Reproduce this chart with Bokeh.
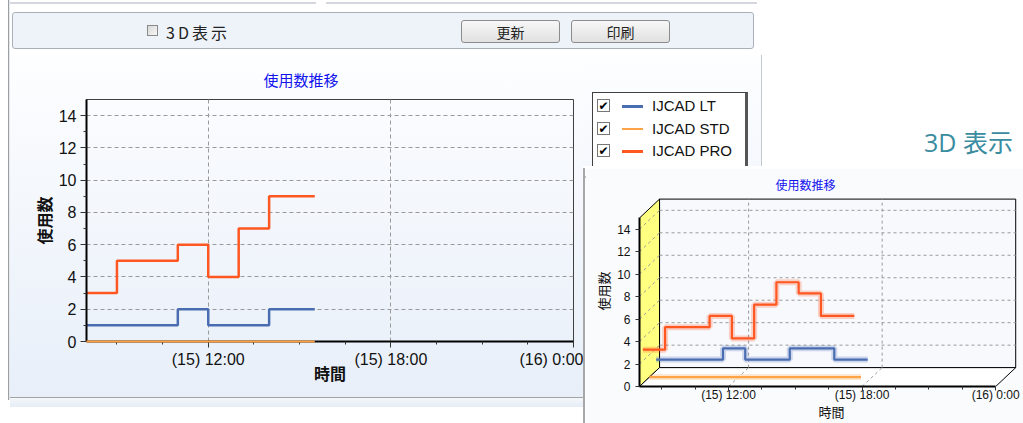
from bokeh.plotting import figure
from bokeh.models import Range1d, FixedTicker, Div
from bokeh.layouts import row, column
from bokeh.embed import file_html
from bokeh.resources import INLINE

# ---------------- data ----------------
# 2D chart (snapshot)
times_2d = ["08:00", "09:00", "10:00", "11:00", "12:00", "13:00", "14:00", "15:00", "15:30"]
lt_2d = [1, 1, 1, 2, 1, 1, 2, 2, 2]
std_2d = [0, 0, 0, 0, 0, 0, 0, 0, 0]
pro_2d = [3, 5, 5, 6, 4, 7, 9, 9, 9]

# 3D chart (inset)
times_3d = ["08:00", "09:00", "10:00", "11:00", "12:00", "13:00", "14:00", "15:00", "16:00", "17:00", "17:30"]
lt_3d = [1, 1, 1, 2, 1, 1, 2, 2, 1, 1, 1]
std_3d = [0, 0, 0, 0, 0, 0, 0, 0, 0, 0, 0]
pro_3d = [3, 5, 5, 6, 4, 7, 9, 8, 6, 6, 6]

series_names = ["IJCAD LT", "IJCAD STD", "IJCAD PRO"]
series_colors = ["#4A6DB2", "#FFA347", "#FF5722"]

x_start, x_end = 8, 24
y_max = 15
major_hours = [12, 18, 24]
major_labels = ["(15) 12:00", "(15) 18:00", "(16) 0:00"]
minor_hours = [9, 10.5, 13.5, 15, 16.5, 19.5, 21, 22.5]
y_ticks = [0, 2, 4, 6, 8, 10, 12, 14]
y_minor = [1, 3, 5, 7, 9, 11, 13]

title_text = "使用数推移"
x_label = "時間"
y_label = "使用数"

JP = "Noto Sans CJK JP"
NUM = "Liberation Sans"


def hours(t):
    h, m = t.split(":")
    return int(h) + int(m) / 60.0


h2 = [hours(t) for t in times_2d]
h3 = [hours(t) for t in times_3d]

# ---------------- main 2D chart ----------------
p = figure(width=573, height=342, x_range=Range1d(x_start, x_end), y_range=Range1d(0, y_max),
           output_backend="svg", toolbar_location=None,
           min_border_left=76, min_border_right=10, min_border_top=44, min_border_bottom=56,
           background_fill_alpha=0, border_fill_alpha=0,
           outline_line_color="#404040", outline_line_width=1)
p.styles = {"background": "linear-gradient(180deg, #FDFEFF 0%, #E8EFF9 100%)"}

p.title.text = title_text
p.title.align = "left"
p.title.offset = 177
p.title.standoff = 20
p.title.text_font = JP
p.title.text_font_size = "15px"
p.title.text_font_style = "normal"
p.title.text_color = "#1414EE"

p.xaxis.ticker = FixedTicker(ticks=major_hours, minor_ticks=minor_hours)
p.xaxis.major_label_overrides = dict(zip(major_hours, major_labels))
p.yaxis.ticker = FixedTicker(ticks=y_ticks, minor_ticks=y_minor)
p.xaxis.axis_label = x_label
p.yaxis.axis_label = y_label
for ax in (p.xaxis[0], p.yaxis[0]):
    ax.axis_line_width = 2
    ax.axis_line_color = "black"
    ax.major_tick_line_color = "#333333"
    ax.minor_tick_line_color = "#333333"
    ax.major_tick_in = 0
    ax.major_tick_out = 6
    ax.minor_tick_in = 0
    ax.minor_tick_out = 3
    ax.major_label_text_font = NUM
    ax.major_label_text_font_size = "16px"
    ax.major_label_text_color = "#111111"
    ax.axis_label_text_font = JP
    ax.axis_label_text_font_size = "16px"
    ax.axis_label_text_font_style = "bold"
    ax.axis_label_text_color = "#111111"
p.xaxis.major_label_standoff = 3
p.xaxis.axis_label_standoff = -10
p.yaxis.major_label_standoff = 4
p.yaxis.axis_label_standoff = 0

for g in (p.xgrid[0], p.ygrid[0]):
    g.grid_line_color = "#9A9A9A"
    g.grid_line_dash = "4 3"
    g.grid_line_width = 1

vals_2d = [lt_2d, std_2d, pro_2d]
for idx in (0, 2):
    p.step(x=h2, y=vals_2d[idx], mode="after", line_color=series_colors[idx], line_width=2.5)
p.step(x=h2, y=vals_2d[1], mode="after", line_color=series_colors[1], line_width=2, level="overlay")

# ---------------- 3D inset chart ----------------
DX, DY = 0.9, 1.68  # depth offset of the 3D box (hours, units)
depth = [5 / 6, 3 / 6, 1 / 6]  # LT back, STD middle, PRO front

ins = figure(width=438, height=255, x_range=Range1d(x_start, x_end + 1.25), y_range=Range1d(0, y_max + 2),
             output_backend="svg", toolbar_location=None,
             min_border_left=54, min_border_right=0, min_border_top=27, min_border_bottom=36,
             background_fill_color="#FAFBFD", border_fill_color="#FAFBFD",
             outline_line_color=None)
ins.xgrid.visible = False
ins.ygrid.visible = False

ins.title.text = title_text
ins.title.align = "left"
ins.title.offset = 136
ins.title.standoff = 5
ins.title.text_font = JP
ins.title.text_font_size = "12px"
ins.title.text_font_style = "normal"
ins.title.text_color = "#1414EE"

# back wall
ins.patch([x_start + DX, x_end + DX, x_end + DX, x_start + DX], [DY, DY, y_max + DY, y_max + DY],
          fill_color="#F7F9FD", line_color="black", line_width=1)
# side wall (yellow)
ins.patch([x_start, x_start + DX, x_start + DX, x_start], [0, DY, y_max + DY, y_max],
          fill_color="#FFFF80", line_color="black", line_width=1)
# floor
ins.patch([x_start, x_end, x_end + DX, x_start + DX], [0, 0, DY, DY],
          fill_color="white", line_color="black", line_width=1)
# grid on back wall, side wall and floor
gy = y_ticks[1:]
ins.segment(x0=[x_start + DX] * len(gy), y0=[v + DY for v in gy], x1=[x_end + DX] * len(gy),
            y1=[v + DY for v in gy], line_color="#9A9A9A", line_dash="3 3", line_width=1)
gx = major_hours[:-1]
ins.segment(x0=[v + DX for v in gx], y0=[DY] * len(gx), x1=[v + DX for v in gx],
            y1=[y_max + DY] * len(gx), line_color="#9A9A9A", line_dash="3 3", line_width=1)
ins.segment(x0=[x_start] * len(gy), y0=gy, x1=[x_start + DX] * len(gy), y1=[v + DY for v in gy],
            line_color="#9A9A9A", line_dash="3 3", line_width=1)
ins.segment(x0=gx, y0=[0] * len(gx), x1=[v + DX for v in gx], y1=[DY] * len(gx),
            line_color="#9A9A9A", line_dash="3 3", line_width=1)

vals_3d = [lt_3d, std_3d, pro_3d]
for idx in (0, 1, 2):
    f = depth[idx]
    xs = [h + f * DX for h in h3]
    ys = [v + f * DY for v in vals_3d[idx]]
    ins.step(x=xs, y=ys, mode="after", line_color=series_colors[idx], line_width=6, line_alpha=0.25)
    ins.step(x=xs, y=ys, mode="after", line_color=series_colors[idx], line_width=2.2)

ins.xaxis.ticker = FixedTicker(ticks=major_hours, minor_ticks=minor_hours)
ins.xaxis.major_label_overrides = dict(zip(major_hours, major_labels))
ins.yaxis.ticker = FixedTicker(ticks=y_ticks, minor_ticks=[])
ins.xaxis.bounds = (x_start, x_end)
ins.yaxis.bounds = (0, y_max)
ins.xaxis.axis_label = x_label
ins.yaxis.axis_label = y_label
for ax in (ins.xaxis[0], ins.yaxis[0]):
    ax.axis_line_width = 2
    ax.axis_line_color = "black"
    ax.major_tick_line_color = "#333333"
    ax.minor_tick_line_color = "#333333"
    ax.major_tick_in = 0
    ax.major_tick_out = 4
    ax.minor_tick_in = 0
    ax.minor_tick_out = 3
    ax.major_label_text_font = NUM
    ax.major_label_text_font_size = "12px"
    ax.major_label_text_color = "#111111"
    ax.axis_label_text_font = JP
    ax.axis_label_text_font_size = "13px"
    ax.axis_label_text_font_style = "normal"
    ax.axis_label_text_color = "#111111"
ins.xaxis.major_label_standoff = -3
ins.xaxis.axis_label_standoff = -3
ins.yaxis.major_label_standoff = 5
ins.yaxis.axis_label_standoff = 1

# ---------------- HTML chrome ----------------
top_html = f"""
<div style="position:relative;width:1013px;height:55px;overflow:hidden;background:#ffffff;font-family:'{JP}',sans-serif;">
  <div style="position:absolute;left:0px;top:2px;width:306px;height:2px;background:#D4D8DE;"></div>
  <div style="position:absolute;left:316px;top:2px;width:431px;height:2px;background:#D4D8DE;"></div>
  <div style="position:absolute;left:2px;top:12px;width:742px;height:37px;border:1px solid #A9B0BA;border-radius:3px;background:#EEF3FA;"></div>
  <div style="position:absolute;left:137px;top:25px;width:11px;height:11px;border:1px solid #8A8A8A;background:linear-gradient(135deg,#D8D8D8,#F7F7F7);"></div>
  <div style="position:absolute;left:156px;top:20px;font-size:16px;line-height:24px;color:#222;letter-spacing:3px;">3D表示</div>
  <div style="position:absolute;left:451px;top:20px;width:99px;height:23px;border:1px solid #8C8C8C;border-radius:3px;background:linear-gradient(#F7F7F7,#E1E1E1);font-size:14px;line-height:23px;text-align:center;color:#222;">更新</div>
  <div style="position:absolute;left:561px;top:20px;width:99px;height:23px;border:1px solid #8C8C8C;border-radius:3px;background:linear-gradient(#F7F7F7,#E1E1E1);font-size:14px;line-height:23px;text-align:center;color:#222;">印刷</div>
</div>"""
top_div = Div(text=top_html, width=1013, height=55, margin=0)

rows_html = ""
for i, (name, color) in enumerate(zip(series_names, series_colors)):
    cy = 51 + i * 22.5
    rows_html += f"""
  <div style="position:absolute;left:14px;top:{cy - 7:.1f}px;width:13px;height:13px;border:1px solid #777;background:#fff;font-family:'DejaVu Sans';font-size:12px;line-height:13px;text-align:center;font-weight:bold;color:#000;">&#10004;</div>
  <div style="position:absolute;left:39px;top:{cy - 1:.1f}px;width:21px;height:2.5px;background:{color};"></div>
  <div style="position:absolute;left:69px;top:{cy - 10:.1f}px;font-family:'Liberation Sans';font-size:15px;line-height:20px;color:#111;">{name}</div>"""

legend_html = f"""
<div style="position:relative;width:440px;height:111px;overflow:hidden;background:#ffffff;">
  <div style="position:absolute;left:0;top:0;width:179px;height:111px;background:linear-gradient(180deg,#FDFEFF,#F5F8FD);border-right:1px solid #C4C8CE;"></div>
  <div style="position:absolute;left:9px;top:37px;width:156px;height:90px;border:1px solid #404040;border-right:3px solid #555;background:#ffffff;"></div>
  {rows_html}
  <div style="position:absolute;right:10px;top:70px;font-family:'Open Sans','{JP}',sans-serif;font-size:25px;line-height:34px;color:#3A8CA0;">3D 表示</div>
</div>"""
legend_div = Div(text=legend_html, width=440, height=111, margin=0)

bottom_div = Div(text="""<div style="width:573px;height:26px;background:linear-gradient(180deg,#A3A3A3 0px,#A3A3A3 1px,#F4F7FB 1px,#E6EDF6 10px,#ffffff 10px);"></div>""",
                 width=573, height=26, margin=0)
left_line = Div(text="""<div style="width:10px;height:400px;background:linear-gradient(90deg,#ffffff 8px,#9E9E9E 8px,#9E9E9E 9px,#E4EAF2 9px);"></div>""",
                width=10, height=400, margin=0)
inset_top = Div(text="""<div style="width:440px;height:2px;background:#A8A8A8;"></div>""",
                width=440, height=2, margin=0)
inset_left = Div(text="""<div style="width:2px;height:255px;background:#A8A8A8;"></div>""",
                 width=2, height=255, margin=0)

main_col = column(p, bottom_div, spacing=0, margin=0)
right_col = column(legend_div, inset_top, row(inset_left, ins, spacing=0, margin=0), spacing=0, margin=0)
body = row(main_col, right_col, spacing=0, margin=0)
page = row(left_line, column(top_div, body, spacing=0, margin=0), spacing=0, margin=0)

open("out.html", "w").write(file_html(page, INLINE, title="使用数推移"))
